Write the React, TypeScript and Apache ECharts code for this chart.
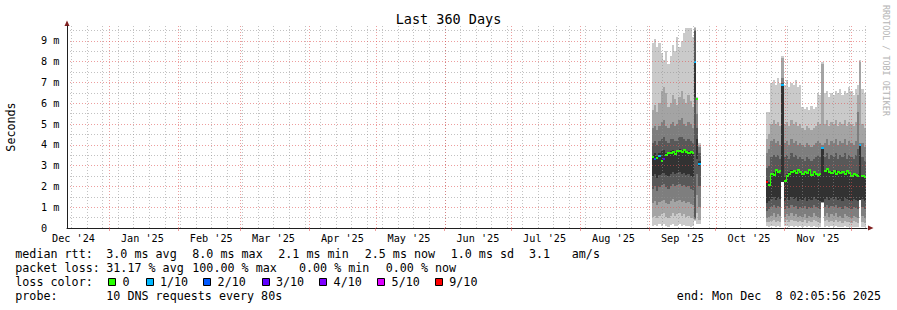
import React, { useEffect, useRef } from 'react';
import * as echarts from 'echarts';

// ---------- time frame ----------
const DAY = 86400000;
const END = Date.UTC(2025, 11, 8, 2, 5, 56);
const START = END - 360 * DAY;
const Y_MAX = 9.72;

// ---------- axis labels ----------
const xTickLabels = ["Dec '24", "Jan '25", "Feb '25", "Mar '25", "Apr '25", "May '25", "Jun '25", "Jul '25", "Aug '25", "Sep '25", "Oct '25", "Nov '25"];
const xTickDates = ['2024-12-16', '2025-01-16', '2025-02-16', '2025-03-16', '2025-04-16', '2025-05-16', '2025-06-16', '2025-07-16', '2025-08-16', '2025-09-16', '2025-10-16', '2025-11-16'];
const majorGridDates = ['2025-01-01', '2025-02-01', '2025-03-01', '2025-04-01', '2025-05-01', '2025-06-01', '2025-07-01', '2025-08-01', '2025-09-01', '2025-10-01', '2025-11-01', '2025-12-01'];
const firstWeekLine = '2024-12-15';

// ---------- loss legend ----------
const lossLabels = ['0', '1/10', '2/10', '3/10', '4/10', '5/10', '9/10'];
const lossColors = ['#26ff00', '#00b8ff', '#0059ff', '#5e00ff', '#7e00ff', '#dd00ff', '#ff0000'];
const smokeColors = ['#cacaca', '#a4a4a4', '#7e7e7e', '#585858', '#323232'];

// ---------- statistics text ----------
const medianStats = ['3.0 ms avg', '8.0 ms max', '2.1 ms min', '2.5 ms now', '1.0 ms sd', '3.1', 'am/s'];
const lossStats = ['31.17 % avg', '100.00 % max', '0.00 % min', '0.00 % now'];
const probeText = '10 DNS requests every 80s';
const endText = ['end: Mon Dec', '8 02:05:56 2025'];

// ---------- September block (1 column per day) ----------
const sepStart = '2025-09-02T06:00:00Z';
const sepP10 = [8.9, 9.1, 8.7, 8.9, 8.4, 8.1, 8.5, 7.9, 8.3, 8.8, 8.5, 9.2, 8.7, 9.0, 9.4, 9.6, 9.6, 9.6, 9.2, 9.65, 6.3, 4.1];
const sepP9 = [5.7, 5.9, 5.6, 6.0, 6.6, 6.8, 6.5, 5.8, 6.0, 6.4, 6.2, 5.9, 6.3, 6.6, 6.2, 6.0, 6.4, 6.1, 5.8, 9.6, 6.2, 4.0];
const sepP8 = [4.8, 4.9, 4.7, 4.9, 5.1, 5.2, 4.9, 4.8, 5.0, 5.1, 4.9, 5.0, 5.2, 5.3, 5.0, 4.9, 5.1, 5.0, 4.8, 9.55, 5.5, 3.9];
const sepP7 = [4.1, 4.2, 4.0, 4.2, 4.3, 4.4, 4.2, 4.1, 4.3, 4.3, 4.2, 4.2, 4.4, 4.4, 4.3, 4.2, 4.3, 4.2, 4.1, 9.5, 4.8, 3.6];
const sepP6 = [3.5, 3.6, 3.45, 3.6, 3.7, 3.75, 3.6, 3.6, 3.7, 3.75, 3.65, 3.7, 3.8, 3.75, 3.7, 3.65, 3.7, 3.65, 3.55, 8.0, 4.3, 3.2];
const sepP5 = [2.5, 2.6, 2.4, 2.55, 2.6, 2.65, 2.55, 2.5, 2.6, 2.7, 2.6, 2.65, 2.7, 2.6, 2.65, 2.55, 2.6, 2.5, 2.45, 6.3, 3.3, 3.0];
const sepP4 = [1.9, 2.0, 1.8, 1.95, 2.05, 2.1, 1.95, 1.9, 2.0, 2.1, 2.0, 2.05, 2.1, 2.0, 2.05, 1.95, 2.0, 1.9, 1.85, 0.5, 2.6, 2.0];
const sepP3 = [1.2, 1.3, 1.1, 1.25, 1.3, 1.35, 1.2, 1.15, 1.3, 1.4, 1.25, 1.3, 1.35, 1.25, 1.3, 1.2, 1.25, 1.15, 1.1, 0.45, 1.6, 1.0];
const sepP2 = [0.55, 0.6, 0.5, 0.6, 0.65, 0.7, 0.55, 0.5, 0.6, 0.7, 0.6, 0.65, 0.7, 0.6, 0.65, 0.55, 0.6, 0.5, 0.5, 0.4, 0.7, 0.4];
const sepP1 = [0.12, 0.15, 0.08, 0.2, 0.1, 0.18, 0.1, 0.05, 0.15, 0.2, 0.1, 0.12, 0.18, 0.1, 0.15, 0.08, 0.12, 0.05, 0.1, 0.35, 0.2, 0.2];
const sepMedian = [3.42, 3.3, 3.38, 3.45, 3.2, 3.3, 3.5, 3.62, 3.6, 3.65, 3.58, 3.7, 3.72, 3.65, 3.75, 3.68, 3.62, 3.66, 3.6, 8.0, 6.2, 3.1];
const sepLoss = [0, 2, 0, 1, 0, 3, 0, 0, 0, 0, 0, 0, 0, 0, 0, 0, 0, 0, 0, 1, 0, 1];

// ---------- October / November block ----------
const octStart = '2025-10-23T14:00:00Z';
const octP10 = [5.6, 5.6, 7.0, 7.1, 6.9, 7.2, 7.0, 8.3, 6.9, 7.1, 6.8, 7.0, 6.9, 7.1, 6.8, 6.9, 5.8, 5.75, 5.8, 5.7, 5.85, 5.75, 5.8, 6.5, 6.4, 8.0, 6.5, 6.6, 6.3, 6.5, 6.4, 6.6, 6.5, 6.7, 6.4, 6.6, 6.5, 6.8, 6.6, 6.4, 6.7, 6.9, 8.1, 6.7, 6.5];
const octP9 = [4.3, 4.5, 5.0, 5.2, 5.0, 5.1, 4.9, 8.2, 5.0, 5.1, 4.9, 5.2, 5.0, 5.1, 4.9, 5.0, 4.8, 4.7, 4.9, 4.8, 4.7, 4.8, 4.9, 5.1, 5.0, 7.9, 5.0, 5.2, 4.9, 5.1, 5.0, 5.2, 4.9, 5.1, 5.0, 5.2, 4.9, 5.1, 5.0, 4.9, 5.1, 6.4, 8.0, 5.0, 4.8];
const octP8 = [3.6, 3.8, 4.2, 4.3, 4.1, 4.2, 4.0, 7.2, 4.1, 4.2, 4.0, 4.3, 4.1, 4.2, 4.0, 4.1, 4.0, 3.9, 4.1, 4.0, 3.9, 4.0, 4.1, 4.2, 4.1, 4.0, 4.1, 4.3, 4.0, 4.2, 4.1, 4.3, 4.0, 4.2, 4.1, 4.3, 4.0, 4.2, 4.1, 4.0, 4.2, 5.6, 4.1, 4.1, 3.9];
const octP7 = [2.9, 3.0, 3.4, 3.5, 3.4, 3.5, 3.3, 7.0, 3.4, 3.5, 3.3, 3.6, 3.4, 3.5, 3.3, 3.4, 3.3, 3.2, 3.4, 3.3, 3.2, 3.3, 3.4, 3.5, 3.4, 3.9, 3.4, 3.6, 3.3, 3.5, 3.4, 3.6, 3.3, 3.5, 3.4, 3.6, 3.3, 3.5, 3.4, 3.3, 3.5, 3.8, 4.05, 3.4, 3.2];
const octP6 = [2.3, 2.2, 2.6, 2.7, 2.75, 2.7, 2.6, 6.9, 2.5, 2.6, 2.7, 2.8, 2.7, 2.75, 2.6, 2.7, 2.6, 2.7, 2.65, 2.75, 2.6, 2.7, 2.6, 2.65, 2.6, 3.85, 2.7, 2.8, 2.7, 2.75, 2.65, 2.8, 2.7, 2.75, 2.6, 2.7, 2.65, 2.6, 2.55, 2.6, 2.5, 2.6, 4.0, 2.5, 2.45];
const octP5 = [1.2, 1.3, 1.4, 1.5, 1.35, 1.45, 1.4, 2.2, 1.3, 1.45, 1.35, 1.5, 1.4, 1.45, 1.3, 1.4, 1.35, 1.45, 1.3, 1.4, 1.35, 1.5, 1.4, 1.35, 1.3, 1.25, 1.4, 1.5, 1.35, 1.45, 1.4, 1.5, 1.35, 1.4, 1.3, 1.45, 1.4, 1.35, 1.3, 1.4, 1.35, 1.3, 1.35, 1.4, 1.3];
const octP4 = [0.8, 0.9, 1.0, 1.1, 0.95, 1.05, 1.0, 2.2, 0.9, 1.05, 0.95, 1.1, 1.0, 1.05, 0.9, 1.0, 0.95, 1.05, 0.9, 1.0, 0.95, 1.1, 1.0, 0.95, 0.9, 1.25, 1.0, 1.1, 0.95, 1.05, 1.0, 1.1, 0.95, 1.0, 0.9, 1.05, 1.0, 0.95, 0.9, 1.0, 0.95, 0.9, 1.35, 1.0, 0.9];
const octP3 = [0.5, 0.55, 0.6, 0.7, 0.55, 0.65, 0.6, 2.2, 0.55, 0.65, 0.6, 0.7, 0.6, 0.65, 0.55, 0.6, 0.55, 0.65, 0.5, 0.6, 0.55, 0.7, 0.6, 0.55, 0.5, 1.25, 0.6, 0.7, 0.55, 0.65, 0.6, 0.7, 0.55, 0.6, 0.5, 0.65, 0.6, 0.55, 0.5, 0.6, 0.55, 0.5, 1.35, 0.6, 0.5];
const octP2 = [0.3, 0.3, 0.35, 0.4, 0.3, 0.35, 0.3, 2.2, 0.3, 0.4, 0.3, 0.4, 0.35, 0.35, 0.3, 0.35, 0.3, 0.4, 0.25, 0.35, 0.3, 0.4, 0.35, 0.3, 0.25, 1.2, 0.35, 0.4, 0.3, 0.35, 0.3, 0.4, 0.3, 0.35, 0.25, 0.35, 0.3, 0.3, 0.25, 0.35, 0.3, 0.25, 1.35, 0.3, 0.25];
const octP1 = [0.1, 0.05, 0.08, 0.12, 0.05, 0.1, 0.04, 2.2, 0.08, 0.12, 0.05, 0.1, 0.06, 0.08, 0.04, 0.1, 0.05, 0.12, 0.03, 0.08, 0.05, 0.1, 0.06, 0.04, 0.03, 1.2, 0.06, 0.1, 0.04, 0.08, 0.05, 0.1, 0.04, 0.06, 0.03, 0.08, 0.05, 0.04, 0.03, 0.06, 0.04, 0.03, 1.35, 0.05, 0.03];
const octMedian = [2.2, 2.05, 2.6, 2.55, 2.8, 2.7, 2.75, 6.9, 2.25, 2.5, 2.6, 2.7, 2.75, 2.65, 2.8, 2.7, 2.6, 2.7, 2.65, 2.8, 2.55, 2.7, 2.6, 2.55, 2.6, 3.85, 2.75, 2.85, 2.7, 2.65, 2.75, 2.6, 2.7, 2.65, 2.7, 2.6, 2.75, 2.65, 2.5, 2.6, 2.55, 2.5, 4.0, 2.5, 2.45];
const octLoss = [6, 0, 0, 0, 0, 0, 0, 1, 0, 0, 0, 0, 0, 0, 0, 0, 0, 0, 0, 0, 0, 0, 0, 0, 0, 1, 0, 0, 0, 0, 0, 0, 0, 0, 0, 0, 0, 0, 0, 0, 0, 0, 1, 0, 0];

const FONT = '"DejaVu Sans Mono", monospace';
const MAJOR = 'rgba(222,79,79,0.55)';
const MINOR = 'rgba(143,143,143,0.55)';
const DASH = [1, 2];

function buildBlock(startIso: string, pings: number[][], med: number[], loss: number[]) {
  const t0 = Date.parse(startIso);
  return med.map((m, i) => [t0 + i * DAY, t0 + (i + 1) * DAY, ...pings.map((p) => p[i]), m, loss[i], i === 0 ? 1 : 0]);
}

const items: number[][] = [
  ...buildBlock(sepStart, [sepP1, sepP2, sepP3, sepP4, sepP5, sepP6, sepP7, sepP8, sepP9, sepP10], sepMedian, sepLoss),
  ...buildBlock(octStart, [octP1, octP2, octP3, octP4, octP5, octP6, octP7, octP8, octP9, octP10], octMedian, octLoss),
];

function gridLineData() {
  const out: number[][] = [];
  for (let t = Date.parse(firstWeekLine); t <= END; t += 7 * DAY) out.push([t, 0]);
  majorGridDates.forEach((d) => out.push([Date.parse(d), 1]));
  return out;
}

function txt(text: string, x: number, y: number, extra: any = {}, rotation = 0) {
  return {
    type: 'text',
    x,
    y,
    rotation,
    silent: true,
    style: { text, fill: '#000', fontSize: 11.7, fontFamily: FONT, align: 'left', verticalAlign: 'middle', ...extra },
  };
}

function buildGraphics() {
  const g: any[] = [];
  g.push(txt('Last 360 Days', 448.5, 19, { fontSize: 13.5, align: 'center' }));
  g.push(txt('Seconds', 11, 127, { align: 'center' }, Math.PI / 2));
  g.push(txt('RRDTOOL / TOBI OETIKER', 886, 5, { fontSize: 8.4, fill: '#b4b4b4' }, -Math.PI / 2));
  // axis arrows
  g.push({ type: 'polygon', silent: true, shape: { points: [[64.5, 26], [69.5, 26], [67, 20.5]] }, style: { fill: '#801f1f' } });
  g.push({ type: 'polygon', silent: true, shape: { points: [[868, 225.5], [868, 230.5], [873.5, 228]] }, style: { fill: '#801f1f' } });
  // legend lines
  const y1 = 254.3, y2 = 268.3, y3 = 282.3, y4 = 296;
  g.push(txt('median rtt:', 15.3, y1));
  const mX = [106.3, 192.3, 278.3, 364.7, 450.7, 529, 571.8];
  medianStats.forEach((s, i) => g.push(txt(s, mX[i], y1)));
  g.push(txt('packet loss:', 15.3, y2));
  const lX = [106.3, 192.3, 299, 385.7];
  lossStats.forEach((s, i) => g.push(txt(s, lX[i], y2)));
  g.push(txt('loss color:', 15.3, y3));
  const bX = [108.3, 145.7, 203.3, 261.7, 319.3, 377.3, 435];
  lossLabels.forEach((s, i) => {
    g.push({ type: 'rect', silent: true, shape: { x: Math.round(bX[i]) + 0.5, y: 278.5, width: 7, height: 7 }, style: { fill: lossColors[i], stroke: '#000', lineWidth: 1 } });
    g.push(txt(s, bX[i] + 14.3, y3));
  });
  g.push(txt('probe:', 15.3, y4));
  g.push(txt(probeText, 106.3, y4));
  g.push(txt(endText[1], 881, y4, { align: 'right' }));
  g.push(txt(endText[0], 881 - 17 * 7.04, y4, { align: 'right' }));
  return g;
}

export default function App() {
  const ref = useRef<HTMLDivElement>(null);
  useEffect(() => {
    if (!ref.current) return;
    const chart = echarts.init(ref.current, null, { renderer: 'svg' });
    const tickValues = xTickDates.map((d) => Date.parse(d + 'T00:00:00Z'));
    const majorValues = majorGridDates.map((d) => Date.parse(d + 'T00:00:00Z'));
    const option: any = {
      animation: false,
      backgroundColor: '#ffffff',
      grid: { left: 67, right: 30, top: 26, bottom: 82, containLabel: false },
      xAxis: {
        type: 'value',
        min: START,
        max: END,
        z: 5,
        axisLine: { show: true, lineStyle: { color: '#1f1f1f', width: 1 } },
        axisTick: { show: true, customValues: majorValues, length: 3, lineStyle: { color: MAJOR } },
        splitLine: { show: false },
        axisLabel: {
          customValues: tickValues,
          margin: 5,
          fontSize: 10.2,
          fontFamily: FONT,
          color: '#000',
          formatter: (v: number) => {
            const i = tickValues.indexOf(v);
            return i >= 0 ? xTickLabels[i] : '';
          },
        },
      },
      yAxis: {
        type: 'value',
        min: 0,
        max: Y_MAX,
        interval: 0.5,
        z: 5,
        axisLine: { show: true, lineStyle: { color: '#1f1f1f', width: 1 } },
        axisTick: { show: false },
        axisLabel: {
          align: 'left',
          margin: 26,
          fontSize: 10.2,
          fontFamily: FONT,
          color: '#000',
          showMaxLabel: false,
          formatter: (v: number) => (v === 0 ? '0' : Number.isInteger(v) ? v + ' m' : ''),
        },
        splitLine: { show: true, showMaxLine: false, lineStyle: { color: [MAJOR, MINOR], type: DASH, width: 1 } },
      },
      series: [
        {
          type: 'custom',
          z: 2,
          silent: true,
          clip: true,
          encode: { x: [0, 1], y: [2, 3, 4, 5, 6, 7, 8, 9, 10, 11, 12] },
          data: items,
          renderItem: (params: any, api: any) => {
            const idx = params.dataIndex;
            const it = items[idx];
            const xa = Math.round(api.coord([it[0], 0])[0]);
            const xb = Math.round(api.coord([it[1], 0])[0]);
            const w = xb - xa;
            const Y = (v: number) => Math.round(api.coord([it[0], v])[1]);
            const children: any[] = [];
            for (let i = 0; i < 5; i++) {
              const lo = Y(it[2 + i]);
              const hi = Y(it[11 - i]);
              children.push({ type: 'rect', shape: { x: xa, y: hi, width: w, height: Math.max(lo - hi, 0) }, style: { fill: smokeColors[i] } });
            }
            const my = Y(it[12]);
            const col = lossColors[it[13]];
            if (!it[14]) {
              const prev = items[idx - 1];
              if (prev && prev[13] === it[13]) {
                const py = Y(prev[12]);
                children.push({ type: 'rect', shape: { x: xa, y: Math.min(py, my) - 1, width: 1, height: Math.abs(py - my) + 2 }, style: { fill: col } });
              }
            }
            children.push({ type: 'rect', shape: { x: xa, y: my - 1, width: w, height: 2 }, style: { fill: col } });
            return { type: 'group', children };
          },
        },
        {
          type: 'custom',
          z: 4,
          silent: true,
          clip: true,
          encode: { x: 0, y: 1 },
          data: gridLineData(),
          renderItem: (params: any, api: any) => {
            const t = api.value(0);
            const major = api.value(1) === 1;
            const x = Math.round(api.coord([t, 0])[0]) + 0.5;
            const y0 = api.coord([t, 0])[1];
            const y1 = api.coord([t, Y_MAX])[1];
            return { type: 'line', shape: { x1: x, y1: y0, x2: x, y2: y1 }, style: { stroke: major ? MAJOR : MINOR, lineWidth: 1, lineDash: DASH } };
          },
        },
      ],
      graphic: buildGraphics(),
    };
    chart.setOption(option);
    return () => chart.dispose();
  }, []);
  return <div ref={ref} style={{ position: 'fixed', left: 0, top: 0, width: 897, height: 310, background: '#fff' }} />;
}
